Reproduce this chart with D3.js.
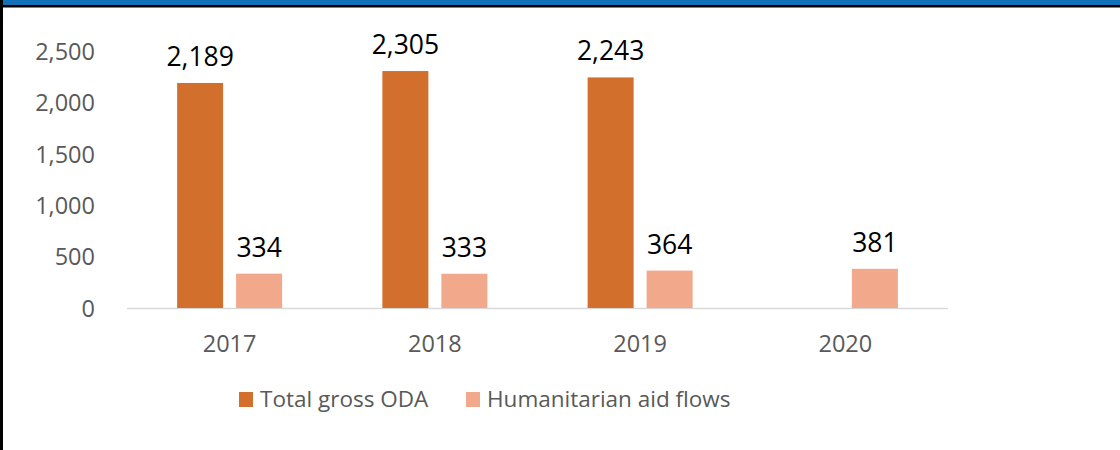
<!DOCTYPE html>
<html>
<head>
<meta charset="utf-8">
<script src="https://cdn.jsdelivr.net/npm/d3@7"></script>
<style>
  html, body { margin: 0; padding: 0; background: #fff; }
  svg { display: block; font-family: "Open Sans", sans-serif; }
</style>
</head>
<body>
<svg id="chart" width="1120" height="450"></svg>
<script>
// Chart data
const years = ["2017", "2018", "2019", "2020"];
const totalGrossODA = [2189, 2305, 2243, null];
const humanitarianAid = [334, 333, 364, 381];
const seriesNames = ["Total gross ODA", "Humanitarian aid flows"];
const seriesColors = ["#D36F2C", "#F2A88A"];
const yTicks = [0, 500, 1000, 1500, 2000, 2500];

const svg = d3.select("#chart");
const W = 1120, H = 450;

// Frame: blue band with black rule on top, black rule on the left
svg.append("rect").attr("x", 0).attr("y", 0).attr("width", W).attr("height", H).attr("fill", "#fff");
svg.append("rect").attr("x", 0).attr("y", 0).attr("width", W).attr("height", 5).attr("fill", "#1170B8");
svg.append("rect").attr("x", 0).attr("y", 5).attr("width", W).attr("height", 2.5).attr("fill", "#000");
svg.append("rect").attr("x", 0).attr("y", 0).attr("width", 3).attr("height", H).attr("fill", "#000");

const plot = { left: 127, right: 948, top: 51, bottom: 308 };

const x0 = d3.scaleBand().domain(years).range([plot.left, plot.right]).paddingInner(0).paddingOuter(0);
const groupW = 105;
const x1 = d3.scaleBand().domain(seriesNames).range([0, groupW]).paddingInner(13 / 59).paddingOuter(0);
const y = d3.scaleLinear().domain([0, 2500]).range([plot.bottom, plot.top]);

// Y axis labels (no axis line, no gridlines)
const yAxis = d3.axisLeft(y).tickValues(yTicks).tickSize(0).tickPadding(0).tickFormat(d3.format(","));
const gy = svg.append("g").attr("transform", `translate(95,0)`).call(yAxis);
gy.select(".domain").remove();
gy.selectAll("text").attr("fill", "#595959").attr("font-size", 23.5).attr("font-family", "Open Sans").attr("dy", "0.35em");

// Baseline
svg.append("line")
  .attr("x1", plot.left).attr("x2", plot.right)
  .attr("y1", y(0) + 0.5).attr("y2", y(0) + 0.5)
  .attr("stroke", "#D9D9D9").attr("stroke-width", 1.5);

// X axis labels
const xAxis = d3.axisBottom(x0).tickSize(0).tickPadding(0);
const gx = svg.append("g").attr("transform", `translate(0,${plot.bottom})`).call(xAxis);
gx.select(".domain").remove();
gx.selectAll("text").attr("fill", "#595959").attr("font-size", 23.5).attr("font-family", "Open Sans").attr("dy", "0").attr("y", 44);

// Bars
const rows = years.map((yr, i) => ({ year: yr, values: [totalGrossODA[i], humanitarianAid[i]] }));
const groups = svg.selectAll("g.grp").data(rows).join("g")
  .attr("class", "grp")
  .attr("transform", d => `translate(${x0(d.year) + (x0.bandwidth() - groupW) / 2},0)`);

groups.selectAll("rect").data(d => d.values.map((v, j) => ({ v, j })).filter(e => e.v != null)).join("rect")
  .attr("x", e => x1(seriesNames[e.j]))
  .attr("width", x1.bandwidth())
  .attr("y", e => y(e.v))
  .attr("height", e => y(0) - y(e.v))
  .attr("fill", e => seriesColors[e.j]);

groups.selectAll("text.lbl").data(d => d.values.map((v, j) => ({ v, j })).filter(e => e.v != null)).join("text")
  .attr("class", "lbl")
  .attr("x", e => x1(seriesNames[e.j]) + x1.bandwidth() / 2)
  .attr("y", e => y(e.v) - 17)
  .attr("text-anchor", "middle")
  .attr("font-size", 26.5)
  .attr("fill", "#000")
  .text(e => d3.format(",")(e.v));

// Legend
const legend = svg.append("g").attr("transform", "translate(239,392)");
const legendX = [0, 227];
seriesNames.forEach((name, i) => {
  const g = legend.append("g").attr("transform", `translate(${legendX[i]},0)`);
  g.append("rect").attr("width", 14).attr("height", 15).attr("fill", seriesColors[i]);
  g.append("text").attr("x", 21).attr("y", 15).attr("font-size", 22.5).attr("fill", "#595959").text(name);
});
</script>
</body>
</html>
